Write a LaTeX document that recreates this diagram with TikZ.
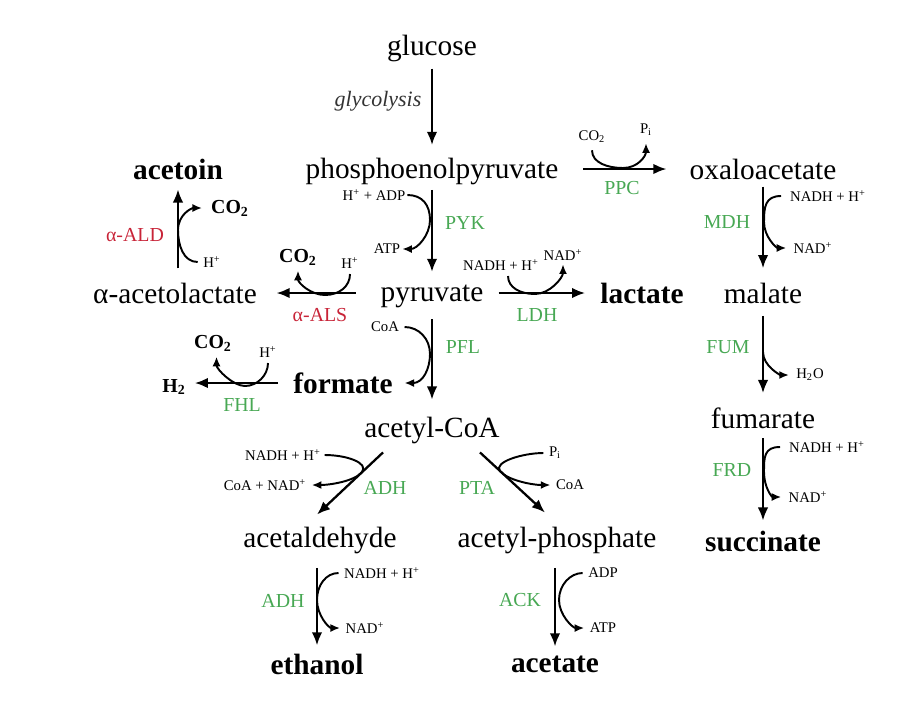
\documentclass[tikz,border=0pt]{standalone}
\usepackage{fontspec}
\setmainfont{Liberation Serif}
\usetikzlibrary{arrows.meta}
\definecolor{enzgreen}{RGB}{72,168,84}
\definecolor{enzred}{RGB}{200,36,56}
\newcommand\metsize{\fontsize{16.7}{18}\selectfont}
\newcommand\enzsize{\fontsize{11.3}{13}\selectfont}
\newcommand\cofsize{\fontsize{8.4}{10}\selectfont}
\tikzset{
  met/.style={font=\metsize, inner sep=1pt},
  prod/.style={font=\metsize\bfseries, inner sep=1pt},
  enz/.style={font=\enzsize, text=enzgreen, inner sep=1pt},
  enzr/.style={font=\enzsize, text=enzred, inner sep=1pt},
  cof/.style={font=\cofsize, inner sep=1pt},
  gas/.style={font=\enzsize\bfseries, inner sep=1pt},
  flux/.style={-{Latex[length=7.5pt,width=6pt]}, line width=1.3pt},
  side/.style={-{Latex[length=5.5pt,width=4.6pt]}, line width=1.1pt},
}
\begin{document}
\begin{tikzpicture}[x=0.02cm,y=-0.02cm]
  \useasboundingbox (0,0) rectangle (908,714);
  % metabolites
  \node[met] (glc) at (432,48) {glucose};
  \node[font=\itshape\fontsize{12.5}{14}\selectfont,text=black!80] (glyc) at (378,101) {glycolysis};
  \node[met] (pep) at (432,171) {phosphoenolpyruvate};
  \node[met] (oxa) at (763,169) {oxaloacetate};
  \node[prod] (acetoin) at (178,169) {acetoin};
  \node[met] (pyr) at (432,296) {pyruvate};
  \node[met] (alac) at (175,293) {α-acetolactate};
  \node[prod] (lac) at (642,293) {lactate};
  \node[met] (mal) at (763,293) {malate};
  \node[prod] (form) at (343,383) {formate};
  \node[gas] (h2) at (174,387) {H\textsubscript{2}};
  \node[met] (fum) at (763,418) {fumarate};
  \node[met] (accoa) at (432,430) {acetyl-CoA};
  \node[met] (acald) at (320,540) {acetaldehyde};
  \node[met] (acp) at (557,540) {acetyl-phosphate};
  \node[prod] (suc) at (763,541) {succinate};
  \node[prod] (eth) at (317,664) {ethanol};
  \node[prod] (ace) at (555,664) {acetate};
  % main fluxes
  \draw[flux,shorten <=3pt,shorten >=6pt] (glc) -- (pep);
  \draw[flux,shorten <=2pt,shorten >=6pt] (pep) -- (pyr);
  \draw[flux,shorten <=5.5pt,shorten >=8.5pt] (pyr) -- (accoa);
  \draw[flux,shorten <=13pt,shorten >=12pt] (pep.east |- oxa) -- (oxa.west);
  \draw[flux,shorten <=7.5pt,shorten >=7.5pt] (pyr.east |- lac) -- (lac.west);
  \draw[flux,shorten <=13pt,shorten >=10pt] (pyr.west |- alac) -- (alac.east);
  \draw[flux,shorten <=7pt,shorten >=4.5pt] (alac.north -| acetoin) -- (acetoin.south);
  \draw[flux,shorten <=7.5pt,shorten >=4pt] (form.west) -- (form.west -| h2.east);
  \draw[flux,shorten <=3pt,shorten >=7pt] (oxa) -- (mal);
  \draw[flux,shorten <=6pt,shorten >=7pt] (mal) -- (fum);
  \draw[flux,shorten <=4.5pt,shorten >=4.5pt] (fum) -- (suc);
  \draw[flux] ([shift={(-49,7)}]accoa.south) -- ([shift={(-3,-10)}]acald.north);
  \draw[flux] ([shift={(48,7)}]accoa.south) -- ([shift={(-12,-12)}]acp.north);
  \draw[flux,shorten <=7pt,shorten >=3.5pt] (acald.south -| eth) -- (eth.north);
  \draw[flux,shorten <=7pt,shorten >=4pt] (acp.south -| ace) -- (ace.north);
  % PYK
  \node[cof] (hadp) at (374,195) {H\textsuperscript{+} + ADP};
  \node[cof] (atp) at (387,249) {ATP};
  \node[enz] (pyk) at (465,223) {PYK};
  \draw[side] (hadp.east) .. controls +(15,0) and +(0,-15) .. (430,220)
    .. controls +(0,15) and +(15,0) .. (atp.east);
  % PPC
  \node[cof] (co2p) at (592,137) {CO\textsubscript{2}};
  \node[cof] (pin) at (646,130) {P\textsubscript{i}};
  \node[enz] (ppc) at (622,188) {PPC};
  \draw[side,shorten <=3pt,shorten >=3pt] (co2p.south) .. controls +(0,18) and +(-15,0) .. (623,168)
    .. controls +(15,0) and +(0,18) .. (pin.south);
  % LDH
  \node[cof] (nadh1) at (501,265) {NADH + H\textsuperscript{+}};
  \node[cof] (nad1) at (563,255) {NAD\textsuperscript{+}};
  \node[enz] (ldh) at (537,315) {LDH};
  \draw[side,shorten <=2pt,shorten >=1pt] ([xshift=4pt]nadh1.south) .. controls +(0,15) and +(-15,0) .. (535,294)
    .. controls +(15,0) and +(0,15) .. (nad1.south);
  % alpha-ALS
  \node[gas] (co2a) at (298,257) {CO\textsubscript{2}};
  \node[cof] (ha) at (350,263) {H\textsuperscript{+}};
  \node[enzr] (als) at (320,315) {α-ALS};
  \draw[side,shorten <=2pt,shorten >=2pt] (ha.south) .. controls +(0,16) and +(14,0) .. (325,295)
    .. controls +(-14,0) and +(0,16) .. (co2a.south);
  % alpha-ALD
  \node[gas] (co2b) at (230,208) {CO\textsubscript{2}};
  \node[cof] (hb) at (212,262) {H\textsuperscript{+}};
  \node[enzr] (ald) at (135,235) {α-ALD};
  \draw[side,shorten <=2pt,shorten >=4pt] (hb.west) .. controls +(-18,0) and +(0,15) .. (178,230)
    .. controls +(0,-15) and +(-18,0) .. (co2b.west);
  % PFL
  \node[cof] (coa1) at (385,327) {CoA};
  \node[enz] (pfl) at (463,347) {PFL};
  \draw[side,shorten <=2pt,shorten >=5.5pt] (coa1.east) .. controls +(18,0) and +(0,-15) .. (430,354)
    .. controls +(0,15) and +(28,0) .. (form.east);
  % FHL
  \node[gas] (co2c) at (213,343) {CO\textsubscript{2}};
  \node[cof] (hc) at (268,352) {H\textsuperscript{+}};
  \node[enz] (fhl) at (242,405) {FHL};
  \draw[side,shorten <=2pt,shorten >=2pt] (hc.south) .. controls +(0,16) and +(12,0) .. (245,386)
    .. controls +(-12,0) and +(0,16) .. ([xshift=2pt]co2c.south);
  % MDH
  \node[cof] (nadh2) at (828,196) {NADH + H\textsuperscript{+}};
  \node[cof] (nad2) at (813,248) {NAD\textsuperscript{+}};
  \node[enz] (mdh) at (727,222) {MDH};
  \draw[side,shorten >=3pt] ([xshift=-4pt]nadh2.west) .. controls +(-16,0) and +(0,-15) .. (764,222)
    .. controls +(0,15) and +(-15,0) .. (nad2.west);
  % FUM
  \node[cof] (h2o) at (810,375) {H\textsubscript{2}O};
  \node[enz] (fumz) at (728,347) {FUM};
  \draw[side,shorten >=3pt] (763,352) .. controls +(0,14) and +(-14,0) .. (h2o.west);
  % FRD
  \node[cof] (nadh3) at (827,447) {NADH + H\textsuperscript{+}};
  \node[cof] (nad3) at (808,497) {NAD\textsuperscript{+}};
  \node[enz] (frd) at (732,470) {FRD};
  \draw[side,shorten >=3pt] ([xshift=-4pt]nadh3.west) .. controls +(-16,0) and +(0,-15) .. (764,472)
    .. controls +(0,15) and +(-15,0) .. (nad3.west);
  % ADH (acetyl-CoA)
  \node[cof] (nadh4) at (283,455) {NADH + H\textsuperscript{+}};
  \node[cof] (coanad) at (265,485) {CoA + NAD\textsuperscript{+}};
  \node[enz] (adha) at (385,488) {ADH};
  \draw[side,shorten <=1pt,shorten >=2pt] (nadh4.east) .. controls +(24,0) and +(7,-9) .. (362,472)
    .. controls +(-7,9) and +(22,0) .. (coanad.east);
  % PTA
  \node[cof] (pib) at (555,453) {P\textsubscript{i}};
  \node[cof] (coa2) at (570,485) {CoA};
  \node[enz] (pta) at (477,488) {PTA};
  \draw[side,shorten <=2pt,shorten >=2pt] (pib.west) .. controls +(-24,0) and +(-7,-9) .. (500,471)
    .. controls +(7,9) and +(-22,0) .. (coa2.west);
  % ADH (acetaldehyde)
  \node[cof] (nadh5) at (382,573) {NADH + H\textsuperscript{+}};
  \node[cof] (nad5) at (365,628) {NAD\textsuperscript{+}};
  \node[enz] (adhb) at (283,601) {ADH};
  \draw[side,shorten <=2pt,shorten >=2pt] (nadh5.west) .. controls +(-16,0) and +(0,-15) .. (317,600)
    .. controls +(0,15) and +(-15,0) .. (nad5.west);
  % ACK
  \node[cof] (adp) at (603,573) {ADP};
  \node[cof] (atp2) at (603,628) {ATP};
  \node[enz] (ack) at (520,600) {ACK};
  \draw[side,shorten <=2pt,shorten >=2pt] (adp.west) .. controls +(-16,0) and +(0,-15) .. (559,600)
    .. controls +(0,15) and +(-15,0) .. (atp2.west);
\end{tikzpicture}
\end{document}
